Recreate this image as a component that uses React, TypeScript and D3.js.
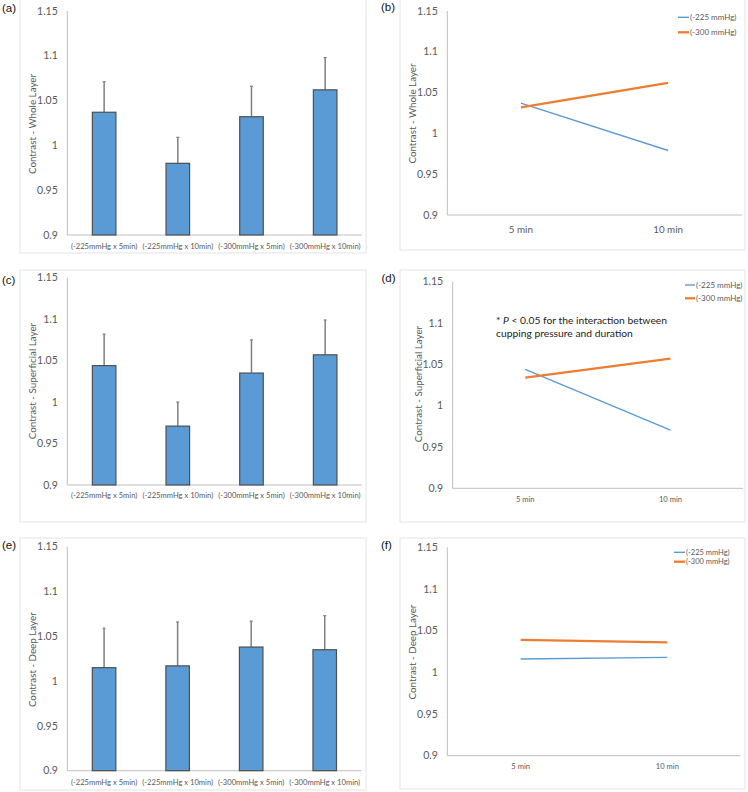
import React from "react";
import * as d3 from "d3";

// ---------- data ----------
const barCategories = ["(-225mmHg x 5min)", "(-225mmHg x 10min)", "(-300mmHg x 5min)", "(-300mmHg x 10min)"];
const wholeMeans = [1.037, 0.98, 1.032, 1.062];
const wholeSD = [0.034, 0.029, 0.034, 0.036];
const superMeans = [1.044, 0.971, 1.035, 1.057];
const superSD = [0.038, 0.029, 0.04, 0.042];
const deepMeans = [1.015, 1.017, 1.038, 1.035];
const deepSD = [0.044, 0.049, 0.029, 0.038];

const durations = ["5 min", "10 min"];
const seriesNames = ["(-225 mmHg)", "(-300 mmHg)"];
const whole225 = [1.037, 0.979];
const whole300 = [1.032, 1.062];
const super225 = [1.044, 0.9705];
const super300 = [1.034, 1.057];
const deep225 = [1.016, 1.018];
const deep300 = [1.039, 1.036];

const yTicks = [0.9, 0.95, 1, 1.05, 1.1, 1.15];
const yTickLabels = ["0.9", "0.95", "1", "1.05", "1.1", "1.15"];
const yDomain = [0.9, 1.15];

const FONT = "Lato, 'Open Sans', sans-serif";
const BLUE = "#5B9BD5";
const ORANGE = "#ED7D31";
const TICK = "#595959";

type Geo = {
  label: string; lx: number; ly: number;
  box: [number, number, number, number];
  x0: number; x1: number; yTop: number; yBot: number;
  title: string; titleX: number; titleY: number;
  catY: number; catSize: number;
};

function YAxis({ g, y }: { g: Geo; y: d3.ScaleLinear<number, number> }) {
  return (
    <g>
      <line x1={g.x0} x2={g.x0} y1={g.yTop} y2={g.yBot} stroke="#bfbfbf" strokeWidth={1} />
      <line x1={g.x0} x2={g.x1} y1={g.yBot} y2={g.yBot} stroke="#bfbfbf" strokeWidth={1} />
      {yTicks.map((t, i) => (
        <text key={i} x={g.x0 - 9.5} y={y(t)} dy="0.35em" textAnchor="end" fontSize={10.5} fill={TICK} fontFamily={FONT}>
          {yTickLabels[i]}
        </text>
      ))}
      <text transform={`translate(${g.titleX},${g.titleY}) rotate(-90)`} textAnchor="middle" dy="0.35em" fontSize={9.8} fill={TICK} fontFamily={FONT}>
        {g.title}
      </text>
    </g>
  );
}

function Frame({ g }: { g: Geo }) {
  const [bx, by, bw, bh] = g.box;
  return (
    <g>
      <rect x={bx} y={by} width={bw} height={bh} fill="white" stroke="#e3e3e3" strokeWidth={1} />
      <text x={g.lx} y={g.ly} fontSize={11.5} fill="#111" fontFamily="'Liberation Sans', Arial, sans-serif">{g.label}</text>
    </g>
  );
}

function BarPanel({ g, means, sd }: { g: Geo; means: number[]; sd: number[] }) {
  const y = d3.scaleLinear().domain(yDomain).range([g.yBot, g.yTop]);
  const x = d3.scaleBand<string>().domain(barCategories).range([g.x0, g.x1]).padding(0);
  const bw = x.bandwidth() * 0.32;
  return (
    <g>
      <Frame g={g} />
      <YAxis g={g} y={y} />
      {barCategories.map((c, i) => {
        const cx = (x(c) as number) + x.bandwidth() / 2;
        const top = y(means[i]);
        const errTop = y(means[i] + sd[i]);
        return (
          <g key={c}>
            <line x1={cx} x2={cx} y1={top} y2={errTop} stroke="#7f7f7f" strokeWidth={1.5} />
            <line x1={cx - 1.5} x2={cx + 1.5} y1={errTop} y2={errTop} stroke="#7f7f7f" strokeWidth={1.2} />
            <rect x={cx - bw / 2} y={top} width={bw} height={g.yBot - top} fill={BLUE} stroke="#4f4f4f" strokeWidth={1.2} />
            <text x={cx} y={g.catY} dy="0.35em" textAnchor="middle" fontSize={g.catSize} fill={TICK} fontFamily={FONT}>{c}</text>
          </g>
        );
      })}
    </g>
  );
}

type LegendGeo = { lx0: number; lx1: number; ly: number[]; size: number };

function LinePanel({ g, s225, s300, leg, note }: { g: Geo; s225: number[]; s300: number[]; leg: LegendGeo; note?: { x: number; y: number } }) {
  const y = d3.scaleLinear().domain(yDomain).range([g.yBot, g.yTop]);
  const x = d3.scalePoint<string>().domain(durations).range([g.x0, g.x1]).padding(0.5);
  const line = d3.line<number>().x((_, i) => x(durations[i]) as number).y((v) => y(v));
  const series = [
    { name: seriesNames[0], vals: s225, color: BLUE, w: 1.4 },
    { name: seriesNames[1], vals: s300, color: ORANGE, w: 2.3 },
  ];
  return (
    <g>
      <Frame g={g} />
      <YAxis g={g} y={y} />
      {durations.map((d) => (
        <text key={d} x={x(d)} y={g.catY} dy="0.35em" textAnchor="middle" fontSize={g.catSize} fill={TICK} fontFamily={FONT}>{d}</text>
      ))}
      {series.map((s) => (
        <path key={s.name} d={line(s.vals) || ""} fill="none" stroke={s.color} strokeWidth={s.w} />
      ))}
      {series.map((s, i) => (
        <g key={"l" + s.name}>
          <line x1={leg.lx0} x2={leg.lx1} y1={leg.ly[i]} y2={leg.ly[i]} stroke={s.color} strokeWidth={s.w} />
          <text x={leg.lx1 + 1} y={leg.ly[i]} dy="0.35em" fontSize={leg.size} fill={TICK} fontFamily={FONT}>{s.name}</text>
        </g>
      ))}
      {note && (
        <text x={note.x} y={note.y} fontSize={10.3} fill="#222" fontFamily={FONT}>
          <tspan>* </tspan>
          <tspan fontStyle="italic">P</tspan>
          <tspan> &lt; 0.05 for the interaction between</tspan>
          <tspan x={note.x} dy={12.5}>cupping pressure and duration</tspan>
        </text>
      )}
    </g>
  );
}

const geoA: Geo = { label: "(a)", lx: 2, ly: 11.5, box: [20, -1, 346, 254], x0: 67.3, x1: 362, yTop: 11, yBot: 235, title: "Contrast - Whole Layer", titleX: 33, titleY: 124, catY: 246.5, catSize: 7.6 };
const geoB: Geo = { label: "(b)", lx: 381, ly: 11, box: [400, -1, 345, 251], x0: 447.3, x1: 741.7, yTop: 11, yBot: 215, title: "Contrast - Whole Layer", titleX: 413, titleY: 113.5, catY: 229.3, catSize: 9.8 };
const geoC: Geo = { label: "(c)", lx: 2, ly: 284, box: [20, 270, 346, 252], x0: 67.3, x1: 362, yTop: 277.7, yBot: 485, title: "Contrast - Superficial Layer", titleX: 33, titleY: 381, catY: 495.7, catSize: 7.6 };
const geoD: Geo = { label: "(d)", lx: 381.5, ly: 282, box: [400, 270, 345, 252], x0: 452.7, x1: 743, yTop: 281.7, yBot: 488.3, title: "Contrast - Superficial Layer", titleX: 418.3, titleY: 384, catY: 499.3, catSize: 7.6 };
const geoE: Geo = { label: "(e)", lx: 2, ly: 549, box: [20, 538, 346, 252], x0: 67.3, x1: 361.5, yTop: 546.7, yBot: 770.7, title: "Contrast - Deep Layer", titleX: 33, titleY: 659.7, catY: 782.3, catSize: 7.6 };
const geoF: Geo = { label: "(f)", lx: 381, ly: 549, box: [400, 538, 345, 251], x0: 447.3, x1: 740.7, yTop: 547.3, yBot: 755.7, title: "Contrast - Deep Layer", titleX: 412.7, titleY: 652, catY: 766.7, catSize: 7.6 };

export default function App() {
  return (
    <svg width={748} height={792} style={{ position: "absolute", left: 0, top: 0, background: "white" }}>
      <rect x={0} y={0} width={748} height={792} fill="white" />
      <BarPanel g={geoA} means={wholeMeans} sd={wholeSD} />
      <LinePanel g={geoB} s225={whole225} s300={whole300} leg={{ lx0: 678, lx1: 689, ly: [17.3, 32.3], size: 8 }} />
      <BarPanel g={geoC} means={superMeans} sd={superSD} />
      <LinePanel g={geoD} s225={super225} s300={super300} leg={{ lx0: 685, lx1: 695, ly: [285, 298.3], size: 8 }} note={{ x: 496, y: 324 }} />
      <BarPanel g={geoE} means={deepMeans} sd={deepSD} />
      <LinePanel g={geoF} s225={deep225} s300={deep300} leg={{ lx0: 674, lx1: 685, ly: [552.3, 561.7], size: 7.5 }} />
    </svg>
  );
}
